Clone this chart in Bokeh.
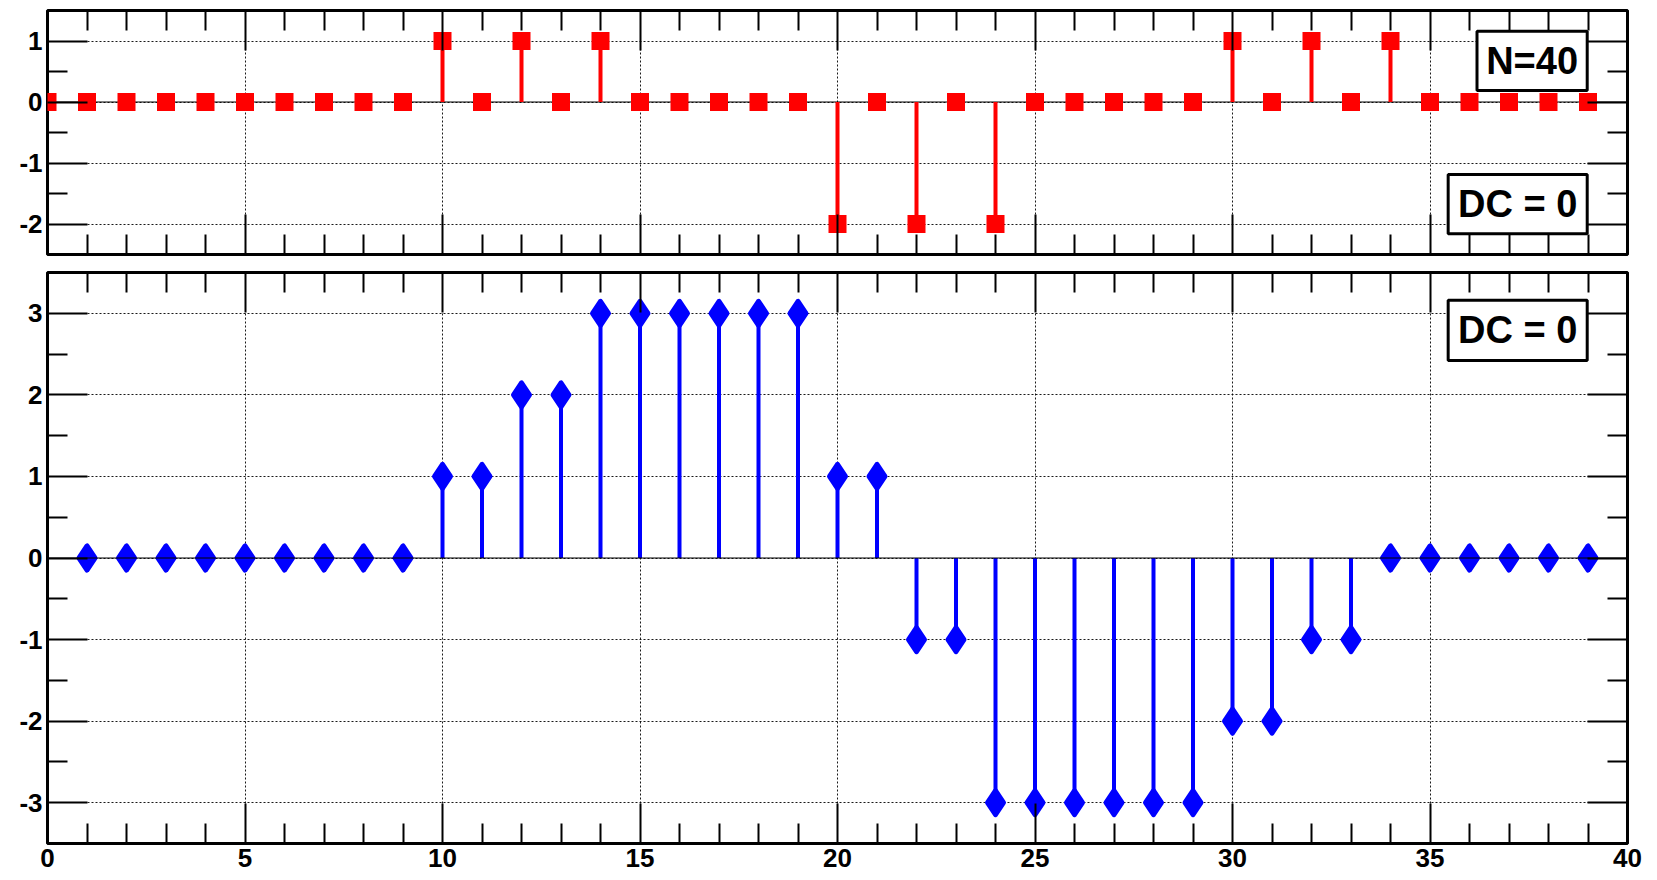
from bokeh.plotting import figure
from bokeh.layouts import column
from bokeh.models import (Range1d, FixedTicker, LinearAxis, BoxAnnotation, Label, Span,
                          ColumnDataSource, CustomLabelingPolicy)
from bokeh.embed import file_html
from bokeh.resources import INLINE

# ---------------- data ----------------
top_x = [0, 1, 2, 3, 4, 5, 6, 7, 8, 9,
         10, 11, 12, 13, 14, 15, 16, 17, 18, 19,
         20, 21, 22, 23, 24, 25, 26, 27, 28, 29,
         30, 31, 32, 33, 34, 35, 36, 37, 38, 39]
top_values = [0, 0, 0, 0, 0, 0, 0, 0, 0, 0,
              1, 0, 1, 0, 1, 0, 0, 0, 0, 0,
              -2, 0, -2, 0, -2, 0, 0, 0, 0, 0,
              1, 0, 1, 0, 1, 0, 0, 0, 0, 0]

bottom_x = [1, 2, 3, 4, 5, 6, 7, 8, 9,
            10, 11, 12, 13, 14, 15, 16, 17, 18, 19,
            20, 21, 22, 23, 24, 25, 26, 27, 28, 29,
            30, 31, 32, 33, 34, 35, 36, 37, 38, 39]
bottom_values = [0, 0, 0, 0, 0, 0, 0, 0, 0,
                 1, 1, 2, 2, 3, 3, 3, 3, 3, 3,
                 1, 1, -1, -1, -3, -3, -3, -3, -3, -3,
                 -2, -2, -1, -1, 0, 0, 0, 0, 0, 0]

x_major = [0, 5, 10, 15, 20, 25, 30, 35, 40]
x_tick_labels = ["0", "5", "10", "15", "20", "25", "30", "35", "40"]
x_minor = [1, 2, 3, 4, 6, 7, 8, 9, 11, 12, 13, 14, 16, 17, 18, 19,
           21, 22, 23, 24, 26, 27, 28, 29, 31, 32, 33, 34, 36, 37, 38, 39]

top_y_major = [-2, -1, 0, 1]
top_y_labels = ["-2", "-1", "0", "1"]
top_y_minor = [-1.5, -0.5, 0.5]

bot_y_major = [-3, -2, -1, 0, 1, 2, 3]
bot_y_labels = ["-3", "-2", "-1", "0", "1", "2", "3"]
bot_y_minor = [-2.5, -1.5, -0.5, 0.5, 1.5, 2.5]

top_note = "N=40"
dc_note = "DC = 0"

FONT = "Liberation Sans"
LABEL_SIZE = "26px"
NOTE_SIZE = "38px"

HIDE_LABELS = """
for (const i of indices) { indices.unset(i) }
return indices
"""


def style_axis(ax, major, minor, labels=None, standoff=5):
    ax.ticker = FixedTicker(ticks=major, minor_ticks=minor)
    ax.axis_line_color = None
    ax.major_tick_in = 40
    ax.major_tick_out = 0
    ax.minor_tick_in = 20
    ax.minor_tick_out = 0
    ax.major_tick_line_width = 2
    ax.minor_tick_line_width = 2
    ax.major_tick_line_color = "black"
    ax.minor_tick_line_color = "black"
    if labels is not None:
        ax.major_label_overrides = {t: l for t, l in zip(major, labels)}
        ax.major_label_text_font = FONT
        ax.major_label_text_font_style = "bold"
        ax.major_label_text_font_size = LABEL_SIZE
        ax.major_label_text_color = "black"
        ax.major_label_standoff = standoff
    else:
        ax.major_label_policy = CustomLabelingPolicy(code=HIDE_LABELS)
        ax.major_label_text_font_size = "1px"
        ax.major_label_standoff = 0


def make_fig(height, y0, y1, ymaj, ymin, ylabels, show_x_labels, top_border, bottom_border):
    p = figure(width=1657, height=height, x_range=Range1d(0, 40), y_range=Range1d(y0, y1),
               output_backend="svg", toolbar_location=None,
               min_border_left=47, min_border_right=30,
               min_border_top=top_border, min_border_bottom=bottom_border)
    p.outline_line_color = "black"
    p.outline_line_width = 3
    p.background_fill_color = "white"
    p.border_fill_color = "white"
    style_axis(p.xaxis[0], x_major, x_minor, x_tick_labels if show_x_labels else None, standoff=5)
    style_axis(p.yaxis[0], ymaj, ymin, ylabels, standoff=5)
    ax_top = LinearAxis()
    style_axis(ax_top, x_major, x_minor, None)
    p.add_layout(ax_top, "above")
    ax_right = LinearAxis()
    style_axis(ax_right, ymaj, ymin, None)
    p.add_layout(ax_right, "right")
    p.xgrid.ticker = FixedTicker(ticks=x_major)
    p.ygrid.ticker = FixedTicker(ticks=ymaj)
    for g in (p.xgrid[0], p.ygrid[0]):
        g.grid_line_color = "black"
        g.grid_line_width = 1
        g.grid_line_dash = "2 2"
        g.grid_line_alpha = 0.9
    return p


def add_note(p, text, left, right, bottom, top):
    p.add_layout(BoxAnnotation(left=left, right=right, bottom=bottom, top=top,
                               fill_color="white", fill_alpha=1.0,
                               line_color="black", line_width=3, line_alpha=1.0))
    p.add_layout(Label(x=(left + right) / 2, y=(bottom + top) / 2, text=text,
                       text_font=FONT, text_font_style="bold", text_font_size=NOTE_SIZE,
                       text_color="black", text_align="center", text_baseline="middle"))


# ---------------- top panel ----------------
p1 = make_fig(262, -2.5, 1.5, top_y_major, top_y_minor, top_y_labels, False, 10, 8)
src1 = ColumnDataSource(dict(x=top_x, y=top_values, z=[0] * len(top_x)))
p1.add_layout(Span(location=0, dimension="width", line_color="black", line_width=1, level="underlay"))
p1.segment(x0="x", y0="z", x1="x", y1="y", source=src1, line_color="#ff0000", line_width=4)
p1.scatter(x="x", y="y", source=src1, marker="square", size=18,
           fill_color="#ff0000", line_color="#ff0000", line_width=0)
add_note(p1, top_note, 36.19, 38.98, 0.19, 1.16)
add_note(p1, dc_note, 35.46, 38.98, -2.16, -1.19)

# ---------------- bottom panel ----------------
p2 = make_fig(618, -3.5, 3.5, bot_y_major, bot_y_minor, bot_y_labels, True, 10, 37)
src2 = ColumnDataSource(dict(x=bottom_x, y=bottom_values, z=[0] * len(bottom_x)))
p2.segment(x0="x", y0="z", x1="x", y1="y", source=src2, line_color="#0000ff", line_width=4)
p2.scatter(x="x", y="y", source=src2, marker="diamond", size=24,
           fill_color="#0000ff", line_color="#0000ff", line_width=5, line_join="round")
p2.add_layout(Span(location=0, dimension="width", line_color="black", line_width=1))
add_note(p2, dc_note, 35.46, 38.98, 2.42, 3.16)

layout = column(p1, p2, spacing=0)
open("out.html", "w").write(file_html(layout, INLINE))
